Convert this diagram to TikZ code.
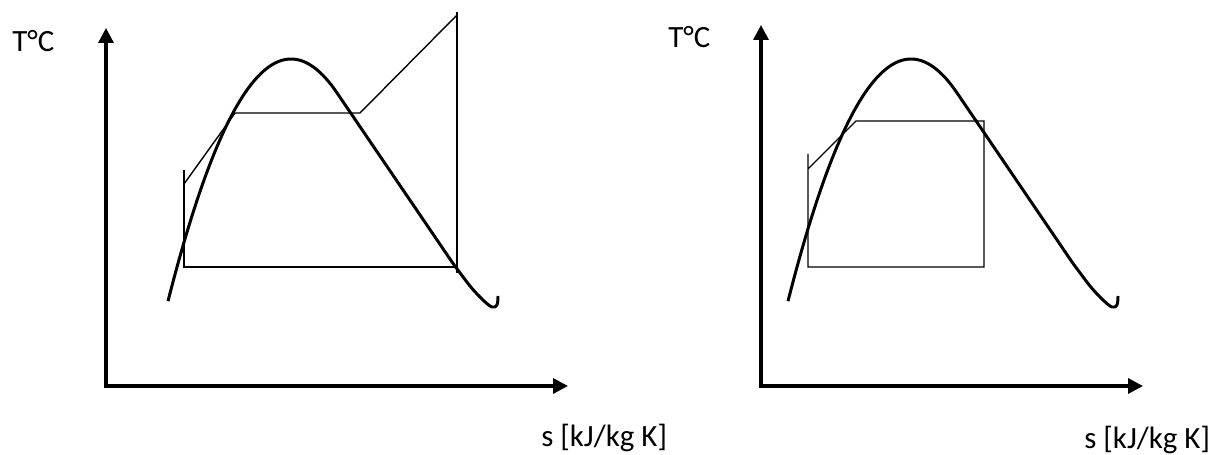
\documentclass[tikz,border=0pt]{standalone}
\usepackage{fontspec}
\setmainfont{Carlito}
\usetikzlibrary{arrows.meta}

\begin{document}
\begin{tikzpicture}[x=0.02cm,y=-0.02cm,
  eje/.style={line width=1.9pt,line join=miter,
    {Triangle[length=0.3cm,width=0.3cm]}-{Triangle[length=0.3cm,width=0.3cm]}},
  campana/.style={line width=1.7pt,line join=round},
  ciclo/.style={line width=0.8pt},
  etiqueta/.style={inner sep=0pt,anchor=base west,font=\fontsize{17.6}{20}\selectfont}]
\useasboundingbox (0,0) rectangle (1224,455);

% Ejes
\coordinate (ya) at (106,28);
\coordinate (oa) at (106,386);
\coordinate (xa) at (568,386);
\coordinate (yb) at (761,25);
\coordinate (ob) at (761,386);
\coordinate (xb) at (1143,386);
\draw[eje] (ya) -- (oa) -- (xa);
\draw[eje] (yb) -- (ob) -- (xb);

% Etiquetas
\node[etiqueta] (Ta) at (12,52) {T°C};
\node[etiqueta] (sa) at (541,447) {s [kJ/kg K]};
\node[etiqueta] (Tb) at (668,48) {T°C};
\node[etiqueta] (sb) at (1084,449) {s [kJ/kg K]};

% Curva de saturación (parábola + recta + gancho), igual en los dos diagramas
\foreach \dx in {0,620} {
  \begin{scope}[shift={(\dx,0)}]
  \draw[campana] plot[domain=168:337,samples=60] (\x,{59+0.016*(\x-291)^2})
    -- (452,262)
    plot[smooth,tension=0.6] coordinates {(452,262) (470,286) (483,300)
      (492,307) (497,305) (498,296)};
  \end{scope}
}

% Ciclo con sobrecalentamiento
\coordinate (a0) at (184,170);
\coordinate (a1) at (184,267);
\coordinate (a2) at (184,184);
\coordinate (a3) at (235,113);
\coordinate (a4) at (360,113);
\coordinate (a5) at (457,15);
\coordinate (a6) at (457,12);
\coordinate (a7) at (457,273);
\coordinate (a8) at (457,267);
\draw[ciclo] (a0) -- (a1) -- (a8);
\draw[ciclo] (a2) -- (a3) -- (a4) -- (a5);
\draw[ciclo] (a6) -- (a7);

% Ciclo saturado
\coordinate (b0) at (808,154);
\coordinate (b1) at (808,267);
\coordinate (b2) at (808,169);
\coordinate (b3) at (856,121);
\coordinate (b4) at (984,121);
\coordinate (b5) at (984,267);
\draw[ciclo] (b0) -- (b1) -- (b5) -- (b4) -- (b3) -- (b2);
\end{tikzpicture}
\end{document}
